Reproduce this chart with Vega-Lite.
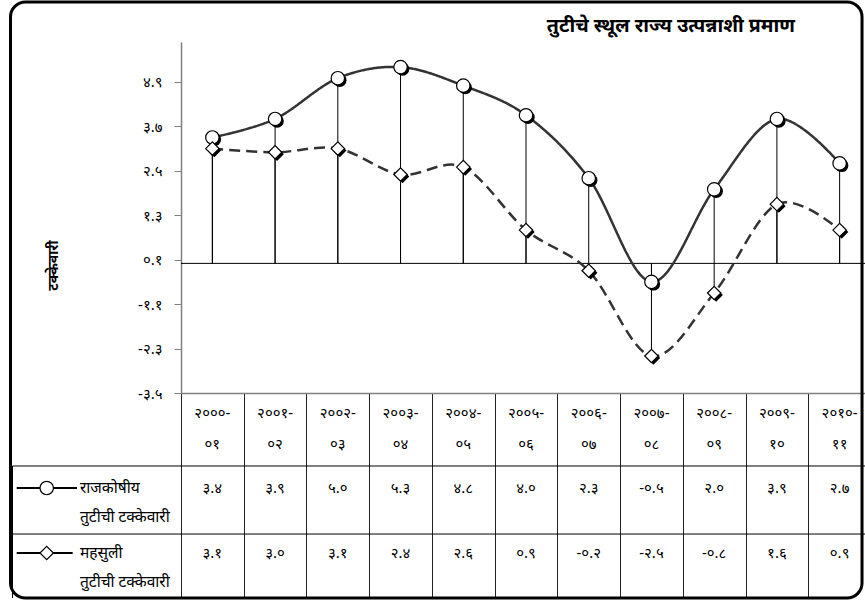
{
  "$schema": "https://vega.github.io/schema/vega-lite/v6.json",
  "width": 690,
  "height": 351,
  "autosize": {"type": "none"},
  "padding": {"left": 181, "top": 42, "right": -6, "bottom": 209},
  "background": "white",
  "config": {"view": {"stroke": null}, "font": "Noto Sans"},
  "datasets": {
    "main": [
      {"year": 2000, "cat": "२०००-०१", "key": "fiscal", "series": "राजकोषीय तुटीची टक्केवारी", "value": 3.4, "label": "३.४"},
      {"year": 2001, "cat": "२००१-०२", "key": "fiscal", "series": "राजकोषीय तुटीची टक्केवारी", "value": 3.9, "label": "३.९"},
      {"year": 2002, "cat": "२००२-०३", "key": "fiscal", "series": "राजकोषीय तुटीची टक्केवारी", "value": 5.0, "label": "५.०"},
      {"year": 2003, "cat": "२००३-०४", "key": "fiscal", "series": "राजकोषीय तुटीची टक्केवारी", "value": 5.3, "label": "५.३"},
      {"year": 2004, "cat": "२००४-०५", "key": "fiscal", "series": "राजकोषीय तुटीची टक्केवारी", "value": 4.8, "label": "४.८"},
      {"year": 2005, "cat": "२००५-०६", "key": "fiscal", "series": "राजकोषीय तुटीची टक्केवारी", "value": 4.0, "label": "४.०"},
      {"year": 2006, "cat": "२००६-०७", "key": "fiscal", "series": "राजकोषीय तुटीची टक्केवारी", "value": 2.3, "label": "२.३"},
      {"year": 2007, "cat": "२००७-०८", "key": "fiscal", "series": "राजकोषीय तुटीची टक्केवारी", "value": -0.5, "label": "-०.५"},
      {"year": 2008, "cat": "२००८-०९", "key": "fiscal", "series": "राजकोषीय तुटीची टक्केवारी", "value": 2.0, "label": "२.०"},
      {"year": 2009, "cat": "२००९-१०", "key": "fiscal", "series": "राजकोषीय तुटीची टक्केवारी", "value": 3.9, "label": "३.९"},
      {"year": 2010, "cat": "२०१०-११", "key": "fiscal", "series": "राजकोषीय तुटीची टक्केवारी", "value": 2.7, "label": "२.७"},
      {"year": 2000, "cat": "२०००-०१", "key": "revenue", "series": "महसुली तुटीची टक्केवारी", "value": 3.1, "label": "३.१"},
      {"year": 2001, "cat": "२००१-०२", "key": "revenue", "series": "महसुली तुटीची टक्केवारी", "value": 3.0, "label": "३.०"},
      {"year": 2002, "cat": "२००२-०३", "key": "revenue", "series": "महसुली तुटीची टक्केवारी", "value": 3.1, "label": "३.१"},
      {"year": 2003, "cat": "२००३-०४", "key": "revenue", "series": "महसुली तुटीची टक्केवारी", "value": 2.4, "label": "२.४"},
      {"year": 2004, "cat": "२००४-०५", "key": "revenue", "series": "महसुली तुटीची टक्केवारी", "value": 2.6, "label": "२.६"},
      {"year": 2005, "cat": "२००५-०६", "key": "revenue", "series": "महसुली तुटीची टक्केवारी", "value": 0.9, "label": "०.९"},
      {"year": 2006, "cat": "२००६-०७", "key": "revenue", "series": "महसुली तुटीची टक्केवारी", "value": -0.2, "label": "-०.२"},
      {"year": 2007, "cat": "२००७-०८", "key": "revenue", "series": "महसुली तुटीची टक्केवारी", "value": -2.5, "label": "-२.५"},
      {"year": 2008, "cat": "२००८-०९", "key": "revenue", "series": "महसुली तुटीची टक्केवारी", "value": -0.8, "label": "-०.८"},
      {"year": 2009, "cat": "२००९-१०", "key": "revenue", "series": "महसुली तुटीची टक्केवारी", "value": 1.6, "label": "१.६"},
      {"year": 2010, "cat": "२०१०-११", "key": "revenue", "series": "महसुली तुटीची टक्केवारी", "value": 0.9, "label": "०.९"}
    ]
  },
  "data": {"name": "main"},
  "encoding": {
    "x": {
      "field": "year", "type": "quantitative",
      "scale": {"domain": [1999.5, 2010.5], "nice": false, "zero": false},
      "axis": {
        "title": null,
        "values": [1999.5, 2000.5, 2001.5, 2002.5, 2003.5, 2004.5, 2005.5, 2006.5, 2007.5, 2008.5, 2009.5, 2010.5],
        "labels": false, "grid": false,
        "tickSize": 205, "tickColor": "#222222", "tickWidth": 1,
        "domainColor": "#808080", "domainWidth": 1.5
      }
    },
    "y": {
      "field": "value", "type": "quantitative",
      "scale": {"domain": [-3.5, 5.978], "nice": false, "zero": false},
      "axis": {
        "title": "टक्केवारी",
        "titleFontSize": 14, "titleFontWeight": "bold", "titleColor": "black",
        "titleX": -128, "titleY": 223, "titleAlign": "center", "titleBaseline": "middle", "titleAngle": 270,
        "values": [-3.5, -2.3, -1.1, 0.1, 1.3, 2.5, 3.7, 4.9],
        "labelExpr": "replace(replace(replace(replace(replace(replace(replace(replace(replace(replace(replace(format(datum.value,'.1f'),'−','-'),regexp('0','g'),'०'),regexp('1','g'),'१'),regexp('2','g'),'२'),regexp('3','g'),'३'),regexp('4','g'),'४'),regexp('5','g'),'५'),regexp('6','g'),'६'),regexp('7','g'),'७'),regexp('8','g'),'८'),regexp('9','g'),'९')",
        "labelFontSize": 15, "labelColor": "black", "labelPadding": 12,
        "grid": false, "tickSize": 7, "tickColor": "#808080", "domainColor": "#808080", "domainWidth": 1.5
      }
    }
  },
  "layer": [
    {
      "transform": [{"filter": "datum.key == 'fiscal' && datum.year == 2000"}],
      "mark": {"type": "rect", "fill": null, "stroke": "black", "strokeWidth": 3, "cornerRadius": 15, "clip": false},
      "encoding": {
        "x": {"datum": 1996.782}, "x2": {"datum": 2010.357},
        "y": {"datum": 7.058}, "y2": {"datum": -9.036}
      }
    },
    {
      "transform": [{"filter": "datum.key == 'fiscal' && datum.year == 2000"}],
      "mark": {"type": "rule", "color": "black", "strokeWidth": 1, "clip": false},
      "encoding": {"x": {"datum": 1996.814}, "x2": {"datum": 2010.5}, "y": {"datum": -5.471}}
    },
    {
      "transform": [{"filter": "datum.key == 'fiscal' && datum.year == 2000"}],
      "mark": {"type": "rule", "color": "black", "strokeWidth": 1, "clip": false},
      "encoding": {"x": {"datum": 1996.814}, "x2": {"datum": 2010.5}, "y": {"datum": -7.308}}
    },
    {
      "transform": [{"filter": "datum.key == 'fiscal' && datum.year == 2000"}],
      "mark": {"type": "rule", "color": "black", "strokeWidth": 1, "clip": false},
      "encoding": {"x": {"datum": 1996.814}, "y": {"datum": -5.471}, "y2": {"datum": -9.036}}
    },
    {
      "transform": [{"filter": "datum.key == 'fiscal' && datum.year == 2000"}],
      "mark": {"type": "rule", "color": "black", "strokeWidth": 1, "clip": false},
      "encoding": {"x": {"datum": 1999.5}, "x2": {"datum": 2010.5}, "y": {"datum": 0}}
    },
    {
      "mark": {"type": "rule", "color": "black", "strokeWidth": 1, "clip": false},
      "encoding": {"y2": {"datum": 0}}
    },
    {
      "mark": {"type": "line", "interpolate": "cardinal", "color": "#333333", "strokeWidth": 2.5, "clip": false},
      "encoding": {
        "detail": {"field": "key"},
        "strokeDash": {"field": "key", "type": "nominal", "scale": {"domain": ["fiscal", "revenue"], "range": [[1, 0], [11, 6]]}, "legend": null}
      }
    },
    {
      "mark": {"type": "point", "filled": true, "color": "black", "xOffset": 2, "yOffset": 2, "opacity": 1, "size": 180, "clip": false},
      "encoding": {
        "shape": {"field": "key", "type": "nominal", "scale": {"domain": ["fiscal", "revenue"], "range": ["circle", "diamond"]}, "legend": null}
      }
    },
    {
      "mark": {"type": "point", "filled": true, "fill": "white", "stroke": "black", "strokeWidth": 1.2, "opacity": 1, "size": 180, "clip": false},
      "encoding": {
        "shape": {"field": "key", "type": "nominal", "scale": {"domain": ["fiscal", "revenue"], "range": ["circle", "diamond"]}, "legend": null}
      }
    },
    {
      "transform": [
        {"filter": "datum.key == 'fiscal'"},
        {"calculate": "[slice(datum.cat, 0, 5), slice(datum.cat, 5)]", "as": "hdr"}
      ],
      "mark": {"type": "text", "fontSize": 15, "lineHeight": 31, "align": "center", "baseline": "middle", "color": "black", "clip": false},
      "encoding": {"y": {"datum": -4.04}, "text": {"field": "hdr", "type": "nominal"}}
    },
    {
      "transform": [{"filter": "datum.key == 'fiscal'"}],
      "mark": {"type": "text", "fontSize": 15, "align": "center", "baseline": "middle", "color": "black", "clip": false},
      "encoding": {"y": {"datum": -6.074}, "text": {"field": "label", "type": "nominal"}}
    },
    {
      "transform": [{"filter": "datum.key == 'revenue'"}],
      "mark": {"type": "text", "fontSize": 15, "align": "center", "baseline": "middle", "color": "black", "clip": false},
      "encoding": {"y": {"datum": -7.829}, "text": {"field": "label", "type": "nominal"}}
    },
    {
      "transform": [{"filter": "datum.key == 'fiscal' && datum.year == 2000"}],
      "mark": {"type": "rule", "color": "black", "strokeWidth": 2, "clip": false},
      "encoding": {"x": {"datum": 1996.881}, "x2": {"datum": 1997.842}, "y": {"datum": -6.066}}
    },
    {
      "transform": [{"filter": "datum.key == 'revenue' && datum.year == 2000"}],
      "mark": {"type": "rule", "color": "black", "strokeWidth": 2, "clip": false},
      "encoding": {"x": {"datum": 1996.881}, "x2": {"datum": 1997.773}, "y": {"datum": -7.821}}
    },
    {
      "transform": [{"filter": "datum.key == 'fiscal' && datum.year == 2000"}],
      "mark": {"type": "point", "shape": "circle", "filled": true, "fill": "white", "stroke": "black", "strokeWidth": 1.2, "opacity": 1, "size": 180, "clip": false},
      "encoding": {"x": {"datum": 1997.359}, "y": {"datum": -6.066}}
    },
    {
      "transform": [{"filter": "datum.key == 'revenue' && datum.year == 2000"}],
      "mark": {"type": "point", "shape": "diamond", "filled": true, "fill": "white", "stroke": "black", "strokeWidth": 1.2, "opacity": 1, "size": 180, "clip": false},
      "encoding": {"x": {"datum": 1997.359}, "y": {"datum": -7.821}}
    },
    {
      "transform": [
        {"filter": "datum.key == 'fiscal' && datum.year == 2000"},
        {"calculate": "[slice(datum.series, 0, indexof(datum.series, ' ')), slice(datum.series, indexof(datum.series, ' ') + 1)]", "as": "lg"}
      ],
      "mark": {"type": "text", "fontSize": 15.5, "lineHeight": 29, "align": "left", "baseline": "middle", "color": "black", "clip": false},
      "encoding": {"x": {"datum": 1997.89}, "y": {"datum": -6.066}, "text": {"field": "lg", "type": "nominal"}}
    },
    {
      "transform": [
        {"filter": "datum.key == 'revenue' && datum.year == 2000"},
        {"calculate": "[slice(datum.series, 0, indexof(datum.series, ' ')), slice(datum.series, indexof(datum.series, ' ') + 1)]", "as": "lg"}
      ],
      "mark": {"type": "text", "fontSize": 15.5, "lineHeight": 29, "align": "left", "baseline": "middle", "color": "black", "clip": false},
      "encoding": {"x": {"datum": 1997.89}, "y": {"datum": -7.821}, "text": {"field": "lg", "type": "nominal"}}
    },
    {
      "transform": [{"filter": "datum.key == 'fiscal' && datum.year == 2000"}],
      "mark": {"type": "text", "text": "तुटीचे स्थूल राज्य उत्पन्नाशी प्रमाण", "fontSize": 19.5, "fontWeight": "bold", "align": "right", "baseline": "middle", "color": "black", "clip": false},
      "encoding": {"x": {"datum": 2009.288}, "y": {"datum": 6.397}}
    }
  ]
}
